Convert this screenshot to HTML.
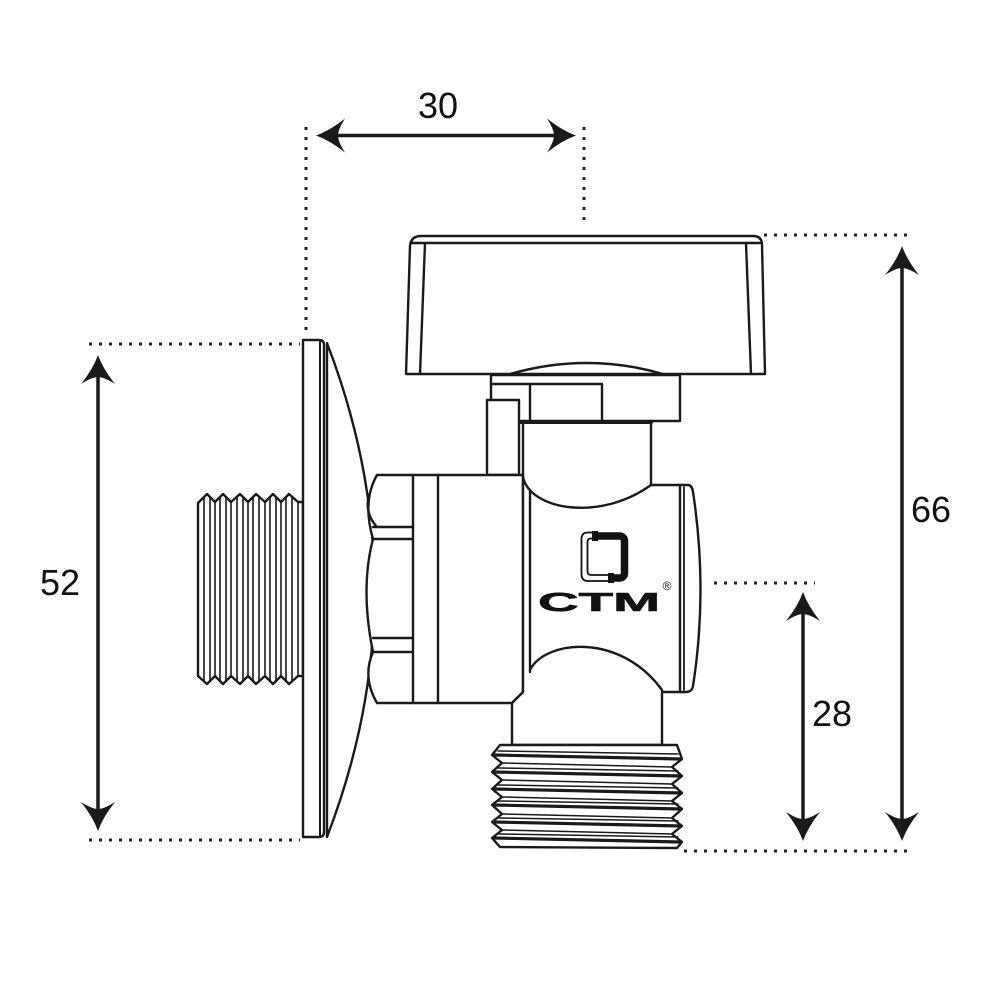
<!DOCTYPE html>
<html><head><meta charset="utf-8"><style>
html,body{margin:0;padding:0;background:#fff;}
svg{display:block;}
</style></head><body>
<svg width="1000" height="1000" viewBox="0 0 1000 1000" xmlns="http://www.w3.org/2000/svg">
<rect width="1000" height="1000" fill="#fff"/>
<defs>
<path id="ah" d="M0,0 Q5,14 17,29 Q6,22 0,22 Q-6,22 -17,29 Q-5,14 0,0 Z" fill="#1a1a1a"/>
</defs>

<!-- ===== Dimension dotted lines ===== -->
<g stroke="#222" stroke-width="3" stroke-dasharray="3 7" fill="none">
<line x1="306" y1="127" x2="306" y2="337"/>
<line x1="584" y1="127" x2="584" y2="227"/>
<line x1="764" y1="235" x2="914" y2="235"/>
<line x1="89" y1="344" x2="300" y2="344"/>
<line x1="89" y1="840" x2="300" y2="840"/>
<line x1="714" y1="583" x2="815" y2="583"/>
<line x1="684" y1="851" x2="914" y2="851"/>
</g>

<!-- ===== Dimension arrows ===== -->
<g stroke="#1a1a1a" stroke-width="3.5" fill="none">
<line x1="330" y1="135.5" x2="562" y2="135.5"/>
<line x1="902" y1="262" x2="902" y2="826"/>
<line x1="803" y1="608" x2="803" y2="826"/>
<line x1="98" y1="370" x2="98" y2="816"/>
</g>
<use href="#ah" transform="translate(316,135.5) rotate(-90)"/>
<use href="#ah" transform="translate(576,135.5) rotate(90)"/>
<use href="#ah" transform="translate(902,246)"/>
<use href="#ah" transform="translate(902,841) rotate(180)"/>
<use href="#ah" transform="translate(803,592)"/>
<use href="#ah" transform="translate(803,841) rotate(180)"/>
<use href="#ah" transform="translate(98,355)"/>
<use href="#ah" transform="translate(98,831) rotate(180)"/>

<g font-family="Liberation Sans, Arial, sans-serif" font-size="36" fill="#111" text-anchor="middle">
<text x="438" y="118">30</text>
<text x="931" y="522">66</text>
<text x="832" y="726">28</text>
<text x="60" y="595">52</text>
</g>

<!-- ===== Drawing ===== -->
<g stroke="#1a1a1a" stroke-width="2.4" fill="#fff" stroke-linejoin="round" stroke-linecap="round">

<!-- left thread -->
<path d="M198,503 L207,494 L215,502 L223,494 L231,502 L240,494 L248,502 L256,494 L265,502 L273,494 L281,502 L289,494 L298,502 L303,502 L303,676 L298,676 L289,684 L281,676 L273,684 L265,676 L256,684 L248,676 L240,684 L231,676 L223,684 L215,676 L207,684 L198,676 Z"/>
<g fill="none" stroke-width="1.6">
<path d="M204,498 V680 M210,498 V680 M215,502 V676 M220,498 V680 M226,498 V680 M231,502 V676 M237,498 V680 M243,498 V680 M248,502 V676 M253,498 V680 M259,498 V680 M265,502 V676 M270,498 V680 M276,498 V680 M281,502 V676 M286,498 V680 M292,498 V680 M298,502 V676"/>
</g>

<!-- dome -->
<path d="M327,343 Q422,590 327,837 Z"/>
<!-- plate -->
<path d="M303,340 H319 Q324,340 324,345 V832 Q324,837 319,837 H303 Z"/>
<line x1="320" y1="341" x2="320" y2="836" stroke-width="2"/>

<!-- collar under handle -->
<rect x="491" y="375" width="189" height="46"/>
<path d="M493,384 H602 V421 M530,384 V421" fill="none"/>

<!-- stem -->
<path d="M523,421 H651 V485 H523 Z" stroke="none"/>
<path d="M523,421 V478 M651,421 V485" fill="none"/>
<line x1="519" y1="422" x2="651" y2="422" stroke-width="4"/>

<!-- lever tab -->
<rect x="487" y="400" width="32" height="75"/>

<!-- handle -->
<path d="M406,374 L410,246 Q411,236 421,236 L753,236 Q762,236 762,245 L765,374 Z"/>
<path d="M412,243 H760 M425,243 L420,374 M746,243 L751,374 M510,374 Q587,352 663,374" fill="none"/>

<!-- left section: nut + ring + body-left -->
<path d="M377,475 H523 V692 L512,703 H377 Q362,677 373,652 Q360,589 373,539 Q362,501 377,475 Z"/>
<path d="M373,527 H413 M373,539 H413 M373,638 H413 M373,652 H413 M413,475 V703 M438,475 V703 M377,527 Q366,515 368,500" fill="none"/>

<!-- main body -->
<path d="M523,477 C530,510 600,522 651,485 H683 V692 H662 V745 H512 V703 L523,692 Z"/>
<path d="M530,490 V672 M530,670 C545,640 620,632 662,690" fill="none"/>
<!-- right cap -->
<path d="M680,485 H688 Q692,485 693,492 Q708,590 693,686 Q692,692 686,692 H680 Z"/>
<line x1="684" y1="487" x2="684" y2="690" stroke-width="1.8"/>

<!-- bottom thread -->
<path d="M500,745 H677 L682,759 L672,767 L682,776 L672,784 L682,793 L672,801 L682,809 L672,818 L682,826 L672,834 L682,842 L677,848 L500,847 L492,838 L502,830 L492,822 L502,814 L492,805 L502,797 L492,789 L502,780 L492,772 L502,763 L492,755 Z"/>
<g fill="none">
<path d="M494,755 L681,759 M494,772 L681,776 M494,789 L681,793 M494,805 L681,809 M494,822 L681,826 M494,838 L681,842" stroke-width="3.2"/>
<path d="M502,763 L672,767 M502,780 L672,784 M502,797 L672,801 M502,814 L672,818 M502,830 L672,834 M498,751 L678,754 M498,768 L678,771 M498,785 L678,788 M498,801 L678,804 M498,818 L678,821 M498,834 L678,837" stroke-width="1.5"/>
</g>
</g>

<!-- logo -->
<g fill="none" stroke-linecap="butt">
<path d="M598,536 H619 Q624.5,536 624.5,541.5 V572.5 Q624.5,578 619,578 H612" stroke="#111" stroke-width="7.5"/>
<path d="M596,532.5 H588 Q581.5,532.5 581.5,539 V574 Q581.5,581 588,581 H610" stroke="#111" stroke-width="1.8"/>
<path d="M596,538.5 H591 Q587.5,538.5 587.5,542 V571 Q587.5,575 591,575 H610" stroke="#111" stroke-width="1.8"/>
<rect x="592" y="531" width="6" height="10" fill="#111" stroke="none"/>
<rect x="608" y="573" width="6" height="10" fill="#111" stroke="none"/>
</g>
<text x="538" y="611" font-family="Liberation Sans, Arial, sans-serif" font-size="26" font-weight="bold" fill="#111" stroke="#111" stroke-width="0.6" textLength="122" lengthAdjust="spacingAndGlyphs">CTM</text>
<text x="667" y="590" font-family="Liberation Sans, Arial, sans-serif" font-size="12" fill="#111" text-anchor="middle">®</text>
</svg>
</body></html>
